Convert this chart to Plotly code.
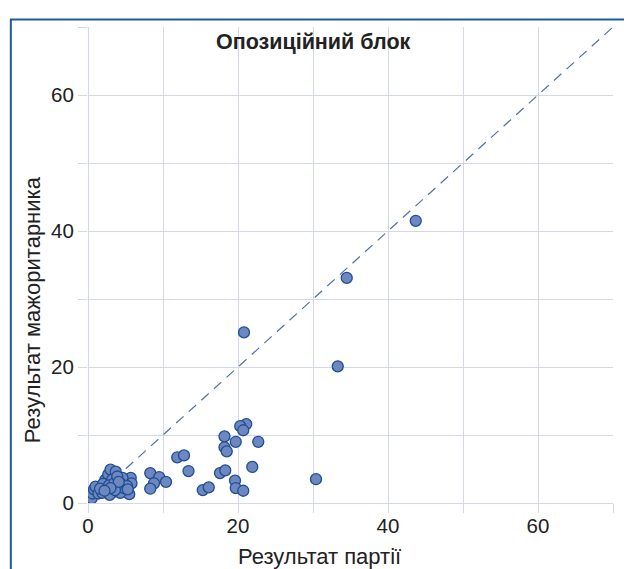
import plotly.graph_objects as go

# Party result (x) vs majoritarian candidate result (y), %
party_x = [43.7, 34.5, 20.8, 33.3, 30.4, 21.1, 20.3, 20.7, 18.2, 19.7, 22.7, 18.2, 18.5,
           11.9, 12.8, 13.4, 21.9, 17.6, 18.3, 19.6, 19.7, 20.7, 15.3, 16.1,
           8.3, 9.5, 10.4, 8.8, 8.3,
           0.5, 0.6, 0.8, 1.0, 1.4, 1.9, 2.3, 2.3, 2.7, 3.0, 3.7, 5.0, 5.7, 5.8, 5.5,
           4.3, 4.6, 3.2, 4.0, 2.0, 2.5, 2.8, 3.3, 3.5, 3.9, 4.4, 4.8, 5.2, 1.6, 2.9,
           3.6, 4.1, 3.0, 2.2, 5.3]
major_y = [41.5, 33.1, 25.1, 20.1, 3.5, 11.6, 11.3, 10.7, 9.8, 9.0, 9.0, 8.2, 7.6,
           6.7, 7.0, 4.7, 5.3, 4.4, 4.8, 3.3, 2.2, 1.8, 1.9, 2.3,
           4.4, 3.8, 3.1, 2.9, 2.1,
           0.7, 1.4, 2.0, 2.4, 1.4, 1.5, 2.4, 3.4, 4.2, 4.9, 4.6, 3.4, 3.7, 2.9, 1.3,
           1.5, 3.7, 3.4, 2.4, 2.8, 1.9, 2.6, 1.6, 2.9, 3.9, 2.8, 2.2, 2.5, 2.1, 1.2,
           1.9, 3.1, 2.2, 1.8, 2.0]

diag = [0, 70]
tick_vals = [0, 10, 20, 30, 40, 50, 60, 70]
tick_text = ["0", "", "20", "", "40", "", "60", ""]

title_text = "Опозиційний блок"
x_title = "Результат партії"
y_title = "Результат мажоритарника"

grid = "#d3d6ec"
txt = "#222222"
font_fam = "Liberation Sans, Arial"

fig = go.Figure()
fig.add_trace(go.Scatter(x=diag, y=diag, mode="lines",
                         line=dict(color="#4f6fae", width=1.2, dash="10px,7px"),
                         hoverinfo="skip", showlegend=False))
fig.add_trace(go.Scatter(x=party_x, y=major_y, mode="markers",
                         marker=dict(size=11, color="#6f87c1",
                                     line=dict(color="#1e4f92", width=1.3)),
                         showlegend=False))

axis_common = dict(range=[0, 70], tickvals=tick_vals, ticktext=tick_text,
                   showgrid=True, gridcolor=grid, gridwidth=1.3,
                   zeroline=True, zerolinecolor=grid, zerolinewidth=1.3,
                   ticks="outside", ticklen=9, tickcolor=grid, tickwidth=1.3,
                   showline=False, automargin=False,
                   tickfont=dict(family=font_fam, size=20.5, color=txt))

# page body has an 8px margin, so the figure is sized/offset to compensate
fig.update_layout(
    width=624, height=561,
    margin=dict(l=80, r=19, t=19, b=66),
    paper_bgcolor="white", plot_bgcolor="white",
    xaxis=dict(**axis_common, ticklabelstandoff=-5),
    yaxis=axis_common,
    annotations=[
        dict(text="<b>" + title_text + "</b>", x=0.4287, y=0.968,
             xref="paper", yref="paper", showarrow=False,
             xanchor="center", yanchor="middle",
             font=dict(family=font_fam, size=21.5, color=txt)),
        dict(text=x_title, x=0.44, y=-0.1127,
             xref="paper", yref="paper", showarrow=False,
             xanchor="center", yanchor="middle",
             font=dict(family=font_fam, size=22, color=txt)),
        dict(text=y_title, x=-0.106, y=0.4058, textangle=-90,
             xref="paper", yref="paper", showarrow=False,
             xanchor="center", yanchor="middle",
             font=dict(family=font_fam, size=22, color=txt)),
    ],
    shapes=[dict(type="rect", xref="paper", yref="paper",
                 x0=-0.147, x1=1.03, y0=-0.2, y1=1.0155,
                 line=dict(color="#1f5aa0", width=2), layer="below")],
)

fig.write_html("out.html")
